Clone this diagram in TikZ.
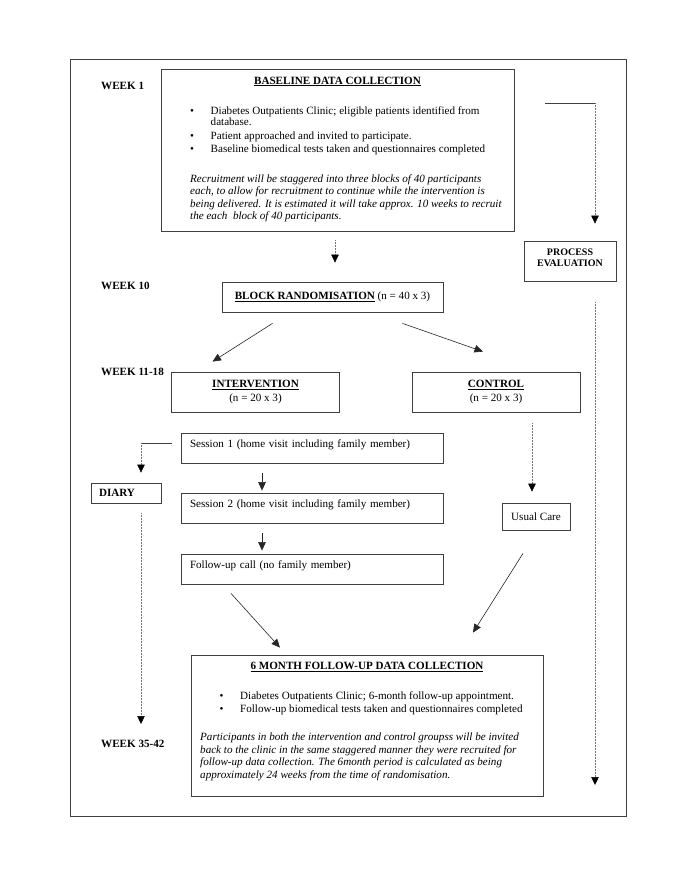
\documentclass[tikz,border=0pt]{standalone}
\usepackage{fontspec}
\setmainfont{Liberation Serif}
\usetikzlibrary{arrows.meta,calc}
\newcommand{\bul}{\makebox[20.5pt][l]{\textbullet}}

\begin{document}
\fontsize{11.1}{12.4}\selectfont
\begin{tikzpicture}[x=1pt,y=-1pt,
  box/.style={draw=black!75,line width=0.8pt,inner sep=0pt,align=center},
  sess/.style={box,minimum width=262,minimum height=30,text width=244,
    inner xsep=9pt,align=left,text depth=8pt},
  txt/.style={inner sep=0pt,align=left},
  week/.style={anchor=west,inner sep=0pt,font=\bfseries},
  plain/.style={line width=0.8pt,draw=black!75},
  arr/.style={-{Triangle[length=8.5pt,width=7.5pt]},line width=0.6pt,draw=black!85},
  dotarr/.style={-{Triangle[length=8pt,width=7.5pt,color=black]},densely dotted,
    line width=0.5pt,draw=black!55}]
  \useasboundingbox (0,0) rectangle (685,887);
  \draw[plain] (70.5,59) rectangle (626,816);

  % week labels
  \node[week] (w1) at (101,86) {WEEK 1};
  \node[week] (w10) at (101,286) {WEEK 10};
  \node[week] (w11) at (101,372) {WEEK 11-18};
  \node[week] (w35) at (101,744) {WEEK 35-42};

  % baseline
  \node[box,minimum width=353,minimum height=162] (base) at (337.5,150) {};
  \node[anchor=base,inner sep=0pt] (basetitle) at (337.5,84)
    {\bfseries\underline{BASELINE DATA COLLECTION}};
  \node[txt,anchor=base west] (baselist) at (190,152.5)
    {\bul Diabetes Outpatients Clinic; eligible patients identified from\\[-0.9pt]
     \hspace*{20.5pt}database.\\[1.6pt]
     \bul Patient approached and invited to participate.\\[0.6pt]
     \bul Baseline biomedical tests taken and questionnaires completed};
  \node[txt,anchor=base west,font=\itshape] (basenote) at (190,219.5)
    {Recruitment will be staggered into three blocks of 40 participants\\[-0.1pt]
     each, to allow for recruitment to continue while the intervention is\\[-0.1pt]
     being delivered. It is estimated it will take approx. 10 weeks to recruit\\[-0.1pt]
     the each\ \ block of 40 participants.};

  % process evaluation
  \node[box,minimum width=92,minimum height=40,text depth=6pt,
    font=\fontsize{10}{11}\selectfont\bfseries] (proc) at (570,261)
    {PROCESS\\EVALUATION};
  \coordinate (pstart) at (545,103);
  \coordinate (pbend) at (595,103);
  \coordinate (pend) at (595,785);
  \draw[plain] (pstart) -- (pbend);
  \draw[dotarr] (pbend) -- ([yshift=17pt]pbend |- proc.north);
  \draw[dotarr] ([yshift=-21pt]pbend |- proc.south) -- (pend);

  % randomisation
  \node[box,minimum width=221,minimum height=30] (rand) at (332.5,297)
    {\textbf{\underline{BLOCK RANDOMISATION}} (n = 40 x 3)};
  \draw[dotarr] ([shift={(-2.5pt,-9pt)}]base.south)
    -- ([shift={(-2.5pt,19pt)}]base.south |- rand.north);

  \node[box,minimum width=168,minimum height=40] (interv) at (255.5,392)
    {\textbf{\underline{INTERVENTION}}\\[1.5pt](n = 20 x 3)};
  \node[box,minimum width=168,minimum height=40] (control) at (496,392)
    {\textbf{\underline{CONTROL}}\\[1.5pt](n = 20 x 3)};
  \draw[arr] ([shift={(-60pt,-11pt)}]rand.south) -- ([shift={(-43pt,10pt)}]interv.north);
  \draw[arr] ([shift={(70pt,-11pt)}]rand.south) -- ([shift={(-13pt,20pt)}]control.north);

  % intervention arm
  \node[sess] (sess1) at (312,448) {Session 1 (home visit including family member)};
  \node[sess] (sess2) at (312,508) {Session 2 (home visit including family member)};
  \node[sess] (fucall) at (312,569) {Follow-up call (no family member)};
  \draw[arr] ([shift={(-50pt,-10pt)}]sess1.south) -- ([shift={(-50pt,2pt)}]sess2.north);
  \draw[arr] ([shift={(-50pt,-10pt)}]sess2.south) -- ([shift={(-50pt,3pt)}]fucall.north);

  \node[box,minimum height=20,text width=54,inner xsep=8pt,align=left,font=\bfseries]
    (diary) at (126,493) {DIARY};
  \coordinate (dbend) at (141,443);
  \coordinate (dend) at (141,724);
  \draw[plain] ([shift={(-9pt,5pt)}]sess1.west) -- (dbend);
  \draw[dotarr] (dbend) -- ([yshift=10pt]dbend |- diary.north);
  \draw[dotarr] ([yshift=-10pt]dbend |- diary.south) -- (dend);

  % control arm
  \node[box,minimum width=68,minimum height=27] (usual) at (536,516.5) {Usual Care};
  \draw[dotarr] ([shift={(-4pt,-11pt)}]usual.north |- control.south)
    -- ([shift={(-4pt,11pt)}]usual.north);

  % follow-up
  \node[box,minimum width=352,minimum height=141] (sixmo) at (367,725.5) {};
  \node[anchor=base,inner sep=0pt] (sixtitle) at (367,669.5)
    {\bfseries\underline{6 MONTH FOLLOW-UP DATA COLLECTION}};
  \node[txt,anchor=base west] (sixlist) at (219.5,712)
    {\bul Diabetes Outpatients Clinic; 6-month follow-up appointment.\\[0.6pt]
     \bul Follow-up biomedical tests taken and questionnaires completed};
  \node[txt,anchor=base west,font=\itshape] (sixnote) at (200,778)
    {Participants in both the intervention and control groupss will be invited\\[0.1pt]
     back to the clinic in the same staggered manner they were recruited for\\[0.1pt]
     follow-up data collection. The 6month period is calculated as being\\[0.1pt]
     approximately 24 weeks from the time of randomisation.};
  \draw[arr] ([shift={(-81pt,-9pt)}]fucall.south) -- ([shift={(-87pt,7pt)}]sixmo.north);
  \draw[arr] ([shift={(-13pt,-23pt)}]usual.south) -- ([shift={(106pt,22pt)}]sixmo.north);
\end{tikzpicture}
\end{document}
